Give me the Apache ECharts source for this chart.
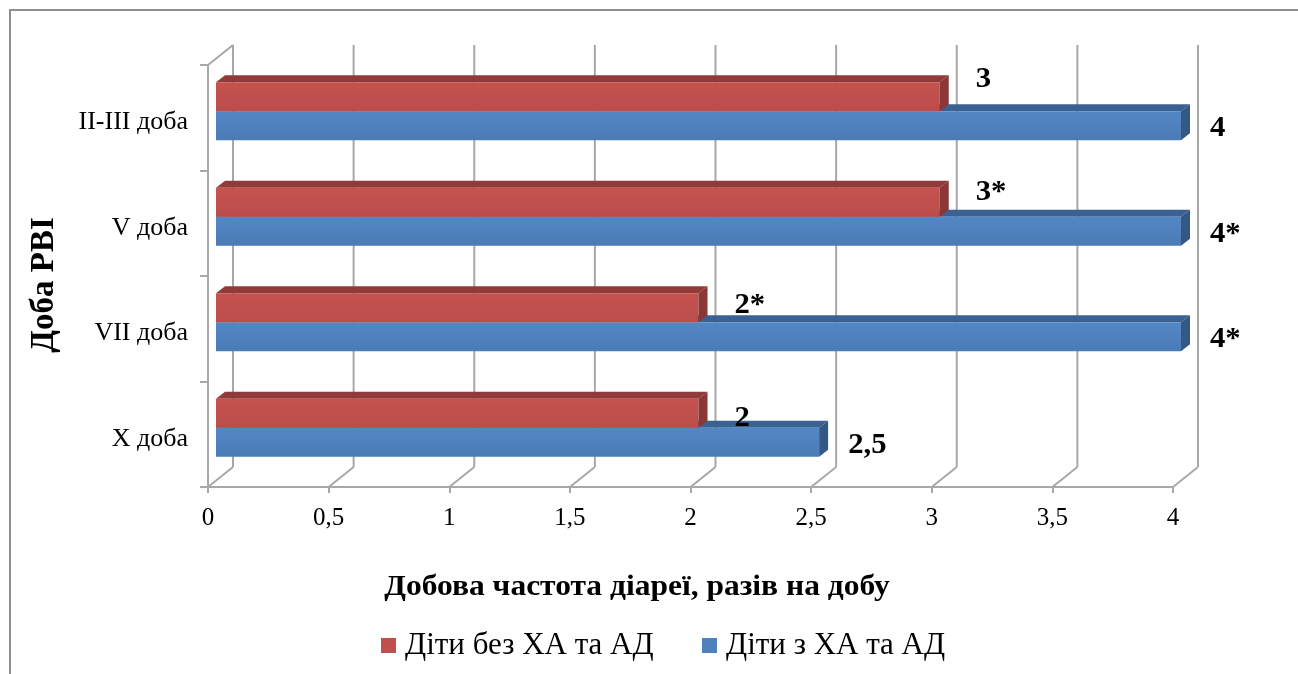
<!DOCTYPE html>
<html>
<head>
<meta charset="utf-8">
<script src="https://cdn.jsdelivr.net/npm/echarts@6/dist/echarts.min.js"></script>
<style>
  html, body { margin: 0; padding: 0; background: #fff; }
  #chart { width: 1298px; height: 674px; }
</style>
</head>
<body>
<div id="chart"></div>
<script>
// Days of acute respiratory viral infection (top to bottom)
const categories = ['II-III доба', 'V доба', 'VII доба', 'X доба'];
const seriesNames = ['Діти без ХА та АД', 'Діти з ХА та АД'];
// Daily diarrhoea frequency, times per day
const withoutAllergy = [3, 3, 2, 2];
const withAllergy = [4, 4, 4, 2.5];
// Significance marks appended to the value labels
const withoutAllergyMarks = ['', '*', '*', ''];
const withAllergyMarks = ['', '*', '*', ''];
const xTicks = [0, 0.5, 1, 1.5, 2, 2.5, 3, 3.5, 4];

const FONT = "'Liberation Serif', 'Times New Roman', serif";
const GRID = { left: 208, top: 65, width: 965, height: 422 };
// Oblique depth of the plot box (back wall offset)
const DEPTH = { dx: 25, dy: -20 };
const BAR_FRONT = 0.32, BAR_BACK = 0.68;
const WALL = '#a8a8a8';

const fmt = v => String(v).replace('.', ',');

function wallItem(params, api) {
  const cs = params.coordSys;
  const x = api.coord([api.value(0), 0])[0];
  const bottom = cs.y + cs.height, top = cs.y;
  const style = { stroke: WALL, lineWidth: 2 };
  const children = [
    { type: 'line', shape: { x1: x + DEPTH.dx, y1: top + DEPTH.dy, x2: x + DEPTH.dx, y2: bottom + DEPTH.dy }, style },
    { type: 'line', shape: { x1: x + DEPTH.dx, y1: bottom + DEPTH.dy, x2: x, y2: bottom }, style }
  ];
  if (params.dataIndex === 0) {
    children.push({ type: 'line', shape: { x1: x, y1: top, x2: x + DEPTH.dx, y2: top + DEPTH.dy }, style });
  }
  return { type: 'group', children };
}

// label: horizontal gap after the bar end, vertical offset and its drift per category row
function barRenderer(upper, colors, marks, label) {
  return function (params, api) {
    const val = api.value(0);
    const cat = api.value(1);
    const start = api.coord([0, cat]);
    const end = api.coord([val, cat]);
    const band = api.size([0, 1])[1];
    const h = band * 0.275;
    const fx = DEPTH.dx * BAR_FRONT, fy = DEPTH.dy * BAR_FRONT;
    const bx = DEPTH.dx * (BAR_BACK - BAR_FRONT), by = DEPTH.dy * (BAR_BACK - BAR_FRONT);
    const x0 = start[0] + fx, x1 = end[0] + fx;
    const yTop = end[1] + fy - (upper ? h : 0);
    const yBot = yTop + h;
    return {
      type: 'group',
      children: [
        { type: 'polygon', shape: { points: [[x0, yTop], [x0 + bx, yTop + by], [x1 + bx, yTop + by], [x1, yTop]] },
          style: { fill: colors.top } },
        { type: 'rect', shape: { x: x0, y: yTop, width: x1 - x0, height: h },
          style: { fill: new echarts.graphic.LinearGradient(0, 0, 0, 1, [
            { offset: 0, color: colors.front0 }, { offset: 1, color: colors.front1 }]) } },
        { type: 'polygon', shape: { points: [[x1, yTop], [x1 + bx, yTop + by], [x1 + bx, yBot + by], [x1, yBot]] },
          style: { fill: colors.side } },
        { type: 'text', x: x1 + label.dx, y: yTop + h / 2 + label.dy + label.drift * cat,
          scaleX: 1.06,
          style: { text: fmt(val) + marks[params.dataIndex], fill: '#000', font: 'bold 29px ' + FONT,
                   align: 'left', verticalAlign: 'middle' } }
      ]
    };
  };
}

const legendText = { color: '#000', fontFamily: FONT, fontSize: 31, padding: [0, 0, 0, 4] };

const chart = echarts.init(document.getElementById('chart'));
chart.setOption({
  animation: false,
  backgroundColor: '#fff',
  grid: Object.assign({ outerBoundsMode: 'none', containLabel: false }, GRID),
  xAxis: {
    type: 'value', min: 0, max: 4, interval: 0.5,
    axisLine: { show: true, lineStyle: { color: WALL, width: 2 } },
    axisTick: { show: true, length: 6, lineStyle: { color: WALL, width: 2 } },
    splitLine: { show: false },
    axisLabel: { formatter: v => fmt(v), color: '#000', fontFamily: FONT, fontSize: 25, margin: 19 }
  },
  yAxis: {
    type: 'category', data: categories, inverse: true,
    axisLine: { show: true, lineStyle: { color: WALL, width: 2 } },
    axisTick: { show: true, length: 8, lineStyle: { color: WALL, width: 2 } },
    splitLine: { show: false },
    axisLabel: { color: '#000', fontFamily: FONT, fontSize: 26, margin: 20,
                 verticalAlign: 'top', lineHeight: 9 }
  },
  legend: [
    { left: 376, top: 625, itemWidth: 15, itemHeight: 15, icon: 'rect',
      data: [seriesNames[0]], textStyle: legendText },
    { left: 697, top: 625, itemWidth: 15, itemHeight: 15, icon: 'rect',
      data: [seriesNames[1]], textStyle: legendText }
  ],
  graphic: [
    { type: 'rect', shape: { x: 10, y: 10, width: 1400, height: 800 }, silent: true,
      style: { fill: 'none', stroke: '#8f8f8f', lineWidth: 2 } },
    { type: 'text', x: 637, y: 587, scaleX: 1.05, silent: true,
      style: { text: 'Добова частота діареї, разів на добу', font: 'bold 30px ' + FONT, fill: '#000',
               align: 'center', verticalAlign: 'middle' } },
    { type: 'text', x: 44, y: 285, rotation: Math.PI / 2, silent: true,
      style: { text: 'Доба РВІ', font: 'bold 33px ' + FONT, fill: '#000',
               align: 'center', verticalAlign: 'middle' } }
  ],
  series: [
    {
      type: 'custom', name: 'walls', silent: true, clip: false, z: 1,
      data: xTicks.map(v => [v, 0]),
      encode: { x: 0, y: 1 },
      renderItem: wallItem
    },
    {
      type: 'custom', name: seriesNames[1], clip: false, z: 2,
      itemStyle: { color: '#4F81BD' },
      data: withAllergy.map((v, i) => [v, i]),
      encode: { x: 0, y: 1 },
      renderItem: barRenderer(false, { top: '#3A6192', side: '#345884', front0: '#5387C4', front1: '#4A7BB6' },
                              withAllergyMarks, { dx: 29, dy: 3, drift: 0 })
    },
    {
      type: 'custom', name: seriesNames[0], clip: false, z: 3,
      itemStyle: { color: '#C0504D' },
      data: withoutAllergy.map((v, i) => [v, i]),
      encode: { x: 0, y: 1 },
      renderItem: barRenderer(true, { top: '#903B39', side: '#8A3735', front0: '#C5524F', front1: '#BA4D4A' },
                              withoutAllergyMarks, { dx: 36, dy: -17, drift: 7.3 })
    }
  ]
});
</script>
</body>
</html>
